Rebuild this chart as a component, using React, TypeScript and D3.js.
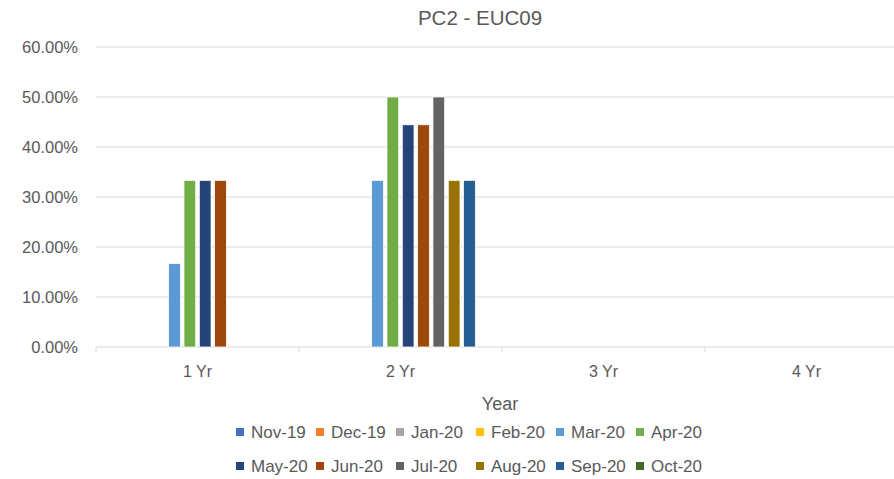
import * as d3 from "d3";

const categories = ["1 Yr", "2 Yr", "3 Yr", "4 Yr"];
const seriesNames = ["Nov-19", "Dec-19", "Jan-20", "Feb-20", "Mar-20", "Apr-20", "May-20", "Jun-20", "Jul-20", "Aug-20", "Sep-20", "Oct-20"];
const seriesColors = ["#4472C4", "#ED7D31", "#A5A5A5", "#FFC000", "#5B9BD5", "#70AD47", "#264478", "#9E480E", "#636363", "#997300", "#255E91", "#43682B"];
// values per series, one per category (percent), null = no bar
const nov19 = [null, null, null, null];
const dec19 = [null, null, null, null];
const jan20 = [null, null, null, null];
const feb20 = [null, null, null, null];
const mar20 = [16.67, 33.33, null, null];
const apr20 = [33.33, 50, null, null];
const may20 = [33.33, 44.44, null, null];
const jun20 = [33.33, 44.44, null, null];
const jul20 = [null, 50, null, null];
const aug20 = [null, 33.33, null, null];
const sep20 = [null, 33.33, null, null];
const oct20 = [null, null, null, null];
const seriesValues = [nov19, dec19, jan20, feb20, mar20, apr20, may20, jun20, jul20, aug20, sep20, oct20];
const yTicks = [0, 10, 20, 30, 40, 50, 60];

const W = 894;
const H = 479;
const font = "'Liberation Sans', Arial, sans-serif";
const textColor = "#595959";

export default function App() {
  const margin = { left: 96, right: -14, top: 47, bottom: 132 };
  const x = d3.scaleBand().domain(categories).range([margin.left, W - margin.right]);
  const inner = d3.scaleBand().domain(seriesNames).range([0, x.bandwidth()]).paddingInner(0.235).paddingOuter(0.74);
  const y = d3.scaleLinear().domain([0, 60]).range([H - margin.bottom, margin.top]);

  const bars = [];
  seriesValues.forEach((vals, si) => {
    vals.forEach((v, ci) => {
      if (v == null) return;
      bars.push(
        <rect
          key={si + "-" + ci}
          x={x(categories[ci]) + inner(seriesNames[si])}
          y={y(v)}
          width={inner.bandwidth()}
          height={y(0) - y(v)}
          fill={seriesColors[si]}
          stroke="#ffffff"
          strokeWidth={0.75}
        />
      );
    });
  });

  const legendRows = [seriesNames.slice(0, 6), seriesNames.slice(6)];

  return (
    <svg width={W} height={H} style={{ position: "absolute", left: 0, top: 0, background: "#fff" }} fontFamily={font}>
      <text x={480} y={25} textAnchor="middle" fontSize={20.5} fill={textColor}>PC2 - EUC09</text>

      {/* grid */}
      {yTicks.map((t) => (
        <line key={t} x1={margin.left} x2={W} y1={y(t)} y2={y(t)} stroke="#d9d9d9" strokeWidth={1} />
      ))}
      {/* y labels */}
      {yTicks.map((t) => (
        <text key={"l" + t} x={78} y={y(t) + 5.5} textAnchor="end" fontSize={16.5} fill={textColor}>
          {t.toFixed(2) + "%"}
        </text>
      ))}

      {bars}

      {/* x axis ticks */}
      {categories.map((c) => (
        <line key={"t" + c} x1={x(c)} x2={x(c)} y1={y(0)} y2={y(0) + 5} stroke="#d9d9d9" strokeWidth={1} />
      ))}
      {categories.map((c) => (
        <text key={"x" + c} x={x(c) + x.bandwidth() / 2} y={377} textAnchor="middle" fontSize={16} fill={textColor}>
          {c}
        </text>
      ))}
      <text x={500} y={410} textAnchor="middle" fontSize={18} fill={textColor}>Year</text>

      {/* legend */}
      {legendRows.map((row, ri) =>
        row.map((name, i) => {
          const idx = ri * 6 + i;
          const lx = 236 + i * 80;
          const ly = 432 + ri * 34;
          return (
            <g key={name}>
              <rect x={lx} y={ly - 4} width={8} height={8} fill={seriesColors[idx]} />
              <text x={lx + 15} y={ly + 6} fontSize={17} fill={textColor}>{name}</text>
            </g>
          );
        })
      )}
    </svg>
  );
}
